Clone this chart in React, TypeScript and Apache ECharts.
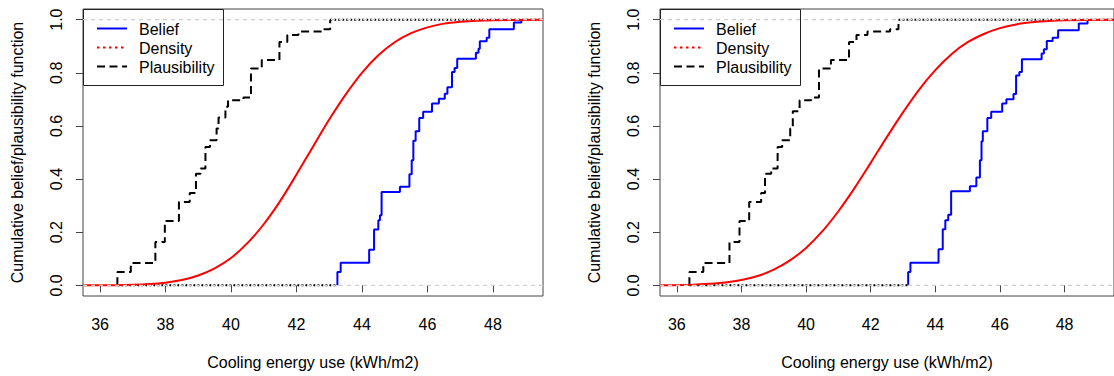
import React, { useEffect, useRef } from "react";
import * as echarts from "echarts";

// ---------- axes / labels ----------
const X_TICKS = [36, 38, 40, 42, 44, 46, 48];
const Y_TICKS = [0, 0.2, 0.4, 0.6, 0.8, 1.0];
const X_MIN = 35.48;
const X_MAX = 49.53;
const Y_MIN = -0.04;
const Y_MAX = 1.04;
const REF_LEVELS = [0, 1];
const LEGEND_LABELS = ["Belief", "Density", "Plausibility"];
const X_TITLE = "Cooling energy use (kWh/m2)";
const Y_TITLE = "Cumulative belief/plausibility function";

// ---------- panel 1 ----------
const belief1X = [43.25, 43.35, 44.22, 44.37, 44.5, 44.55, 44.6, 45.16, 45.45, 45.52, 45.57, 45.64, 45.75, 45.87, 46.14, 46.35, 46.53, 46.61, 46.75, 46.83, 46.91, 47.48, 47.56, 47.6, 47.81, 47.89, 48.64, 48.87];
const belief1Y = [0.05, 0.085, 0.134, 0.21, 0.245, 0.264, 0.351, 0.371, 0.418, 0.471, 0.544, 0.58, 0.63, 0.653, 0.684, 0.702, 0.721, 0.746, 0.803, 0.818, 0.853, 0.875, 0.89, 0.919, 0.932, 0.964, 0.989, 1.0];
const plaus1X = [36.53, 36.94, 37.69, 37.98, 38.41, 38.74, 38.93, 39.07, 39.22, 39.36, 39.56, 39.62, 39.83, 39.91, 40.38, 40.61, 40.94, 41.48, 41.72, 42.06, 42.84, 43.03];
const plaus1Y = [0.05, 0.084, 0.163, 0.242, 0.314, 0.348, 0.42, 0.44, 0.521, 0.546, 0.59, 0.632, 0.672, 0.697, 0.707, 0.816, 0.848, 0.916, 0.942, 0.955, 0.964, 1.0];
const density1X = [35.48, 36.5, 37, 37.5, 38, 38.5, 39, 39.5, 40, 40.5, 41, 41.5, 42, 42.5, 43, 43.5, 44, 44.5, 45, 45.5, 46, 46.5, 47, 47.5, 48, 49.53];
const density1Y = [0.0001, 0.0009, 0.0022, 0.005, 0.0102, 0.02, 0.037, 0.064, 0.103, 0.159, 0.23, 0.317, 0.417, 0.521, 0.624, 0.718, 0.8, 0.866, 0.915, 0.949, 0.971, 0.985, 0.992, 0.996, 0.998, 1.0];

// ---------- panel 2 ----------
const belief2X = [43.16, 43.23, 44.1, 44.23, 44.31, 44.4, 44.49, 45.07, 45.27, 45.38, 45.43, 45.47, 45.61, 45.73, 46.07, 46.2, 46.42, 46.5, 46.6, 46.68, 47.29, 47.36, 47.45, 47.63, 47.8, 48.44, 48.71];
const belief2Y = [0.05, 0.085, 0.136, 0.211, 0.245, 0.266, 0.354, 0.373, 0.406, 0.471, 0.542, 0.58, 0.63, 0.653, 0.684, 0.7, 0.72, 0.79, 0.803, 0.851, 0.873, 0.889, 0.92, 0.932, 0.96, 0.985, 1.0];
const plaus2X = [36.39, 36.82, 37.63, 37.94, 38.24, 38.61, 38.73, 38.92, 39.12, 39.26, 39.51, 39.59, 39.8, 40.16, 40.4, 40.77, 41.33, 41.56, 41.9, 42.6, 42.86];
const plaus2Y = [0.05, 0.084, 0.163, 0.242, 0.314, 0.348, 0.42, 0.44, 0.521, 0.546, 0.59, 0.655, 0.697, 0.707, 0.816, 0.848, 0.916, 0.942, 0.955, 0.964, 1.0];
const density2X = [35.48, 36.5, 37, 37.5, 38, 38.5, 39, 39.5, 40, 40.5, 41, 41.5, 42, 42.5, 43, 43.5, 44, 44.5, 45, 45.5, 46, 46.5, 47, 47.5, 48, 49.53];
const density2Y = [0.0005, 0.0028, 0.006, 0.011, 0.02, 0.035, 0.059, 0.094, 0.141, 0.203, 0.279, 0.366, 0.461, 0.558, 0.651, 0.737, 0.81, 0.87, 0.915, 0.946, 0.968, 0.982, 0.99, 0.995, 0.9977, 1.0];

const FONT = "'Liberation Sans', Arial, Helvetica, sans-serif";
const BOX = "#444";
const BLUE = "#0000ff";
const RED = "#ff0000";
const BLACK = "#000000";
const GREY = "#cfcfcf";

const zip = (xs: number[], ys: number[]) => xs.map((x, i) => [x, ys[i]]);

function panelSeries(idx: number, belX: number[], belY: number[], plX: number[], plY: number[], dX: number[], dY: number[]) {
  const base = { type: "line", xAxisIndex: idx, yAxisIndex: idx, symbol: "none", silent: true, clip: true, animation: false };
  const s: any[] = [];
  // black dotted floor / ceiling
  s.push({ ...base, name: "floor" + idx, data: [[plX[0], 0], [belX[0], 0]], lineStyle: { color: BLACK, width: 2, type: [2, 2] }, z: 2 });
  s.push({ ...base, name: "ceil" + idx, data: [[plX[plX.length - 1], 1], [X_MAX, 1]], lineStyle: { color: BLACK, width: 2, type: [2, 2] }, z: 2 });
  s.push({ ...base, name: "Plausibility", data: [[plX[0], 0], ...zip(plX, plY)], step: "end", lineStyle: { color: BLACK, width: 2, type: [8, 4.5] }, z: 3 });
  s.push({ ...base, name: "Belief", data: [[belX[0], 0], ...zip(belX, belY)], step: "end", lineStyle: { color: BLUE, width: 2 }, z: 4 });
  s.push({ ...base, name: "Density", data: zip(dX, dY), smooth: 0.35, lineStyle: { color: RED, width: 2 }, z: 5 });
  REF_LEVELS.forEach((lv, k) => {
    s.push({ ...base, name: "ref" + idx + "_" + k, data: [[X_MIN, lv], [X_MAX, lv]], lineStyle: { color: GREY, width: 1.2, type: [4, 4] }, z: 6 });
  });
  return s;
}

function legendGraphic(left: number) {
  const top = 9;
  const rows = [28.5, 47.5, 66.5];
  const styles = [
    { stroke: BLUE, lineWidth: 2 },
    { stroke: RED, lineWidth: 2, lineDash: [2.5, 3.5] },
    { stroke: BLACK, lineWidth: 2, lineDash: [8, 4.5] },
  ];
  const children: any[] = [
    { type: "rect", shape: { x: left + 0.5, y: top + 0.5, width: 140, height: 76 }, style: { fill: "#ffffff", stroke: "#222", lineWidth: 1 } },
  ];
  LEGEND_LABELS.forEach((lab, i) => {
    children.push({ type: "line", shape: { x1: left + 14, y1: rows[i], x2: left + 44, y2: rows[i] }, style: styles[i] });
    children.push({ type: "text", x: left + 56, y: rows[i] + 1, style: { text: lab, fill: "#000", font: `16px ${FONT}`, textAlign: "left", textVerticalAlign: "middle" } });
  });
  return { type: "group", z: 100, children };
}

function makeAxes(idx: number) {
  const xAxis = {
    type: "value",
    gridIndex: idx,
    min: X_MIN,
    max: X_MAX,
    name: X_TITLE,
    nameLocation: "middle",
    nameGap: 58.5,
    nameTextStyle: { fontSize: 16, fontFamily: FONT, color: "#000" },
    axisLine: { show: false },
    splitLine: { show: false },
    axisTick: { show: true, length: 7, lineStyle: { color: BOX, width: 1 }, customValues: X_TICKS },
    axisLabel: { show: true, margin: 20.5, fontSize: 16, fontFamily: FONT, color: "#000", customValues: X_TICKS, formatter: (v: number) => String(v) },
  };
  const yAxis = {
    type: "value",
    gridIndex: idx,
    min: Y_MIN,
    max: Y_MAX,
    name: Y_TITLE,
    nameLocation: "middle",
    nameRotate: 90,
    nameGap: 57.5,
    nameTextStyle: { fontSize: 16, fontFamily: FONT, color: "#000" },
    axisLine: { show: false },
    splitLine: { show: false },
    axisTick: { show: true, length: 7, lineStyle: { color: BOX, width: 1 }, customValues: Y_TICKS },
    axisLabel: { show: true, rotate: 90, margin: 19, fontSize: 16, fontFamily: FONT, color: "#000", customValues: Y_TICKS, formatter: (v: number) => v.toFixed(1) },
  };
  return { xAxis, yAxis };
}

export default function App() {
  const ref = useRef<HTMLDivElement>(null);
  useEffect(() => {
    document.body.style.margin = "0";
    if (!ref.current) return;
    const chart = echarts.init(ref.current, null, { renderer: "svg" });
    const a0 = makeAxes(0);
    const a1 = makeAxes(1);
    const option: any = {
      animation: false,
      backgroundColor: "#ffffff",
      grid: [
        { left: 83, top: 9, width: 460, height: 287, show: true, borderColor: BOX, borderWidth: 1, backgroundColor: "transparent" },
        { left: 660, top: 9, width: 460, height: 287, show: true, borderColor: BOX, borderWidth: 1, backgroundColor: "transparent" },
      ],
      xAxis: [a0.xAxis, a1.xAxis],
      yAxis: [a0.yAxis, a1.yAxis],
      series: [
        ...panelSeries(0, belief1X, belief1Y, plaus1X, plaus1Y, density1X, density1Y),
        ...panelSeries(1, belief2X, belief2Y, plaus2X, plaus2Y, density2X, density2Y),
      ],
      graphic: [legendGraphic(83), legendGraphic(660)],
    };
    chart.setOption(option);
    return () => chart.dispose();
  }, []);
  return <div ref={ref} style={{ width: 1114, height: 376 }} />;
}
